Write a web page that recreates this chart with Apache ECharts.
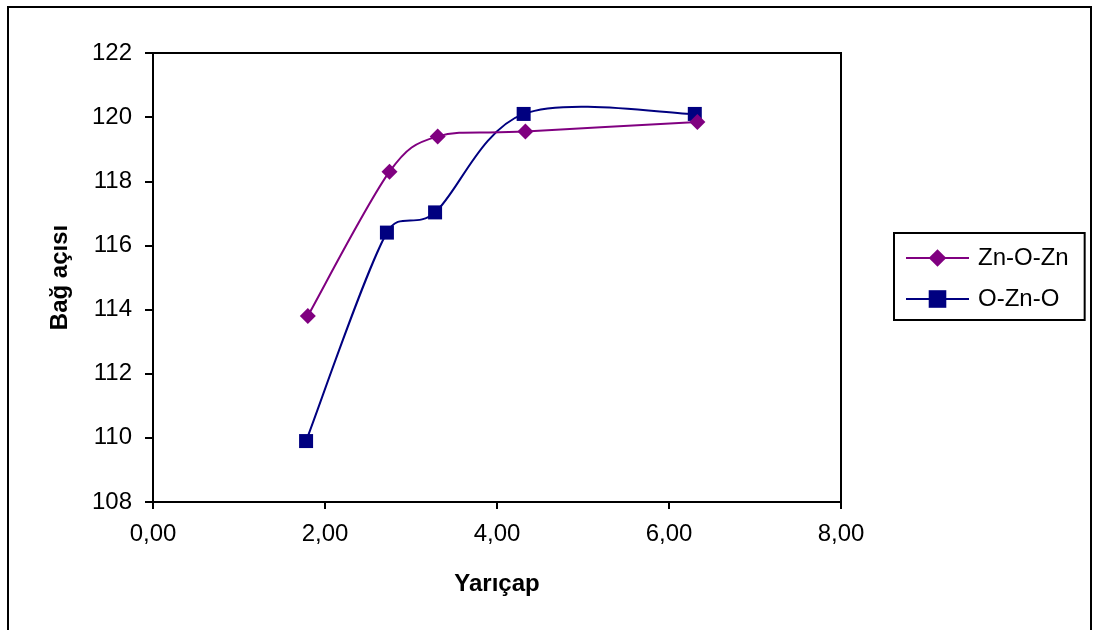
<!DOCTYPE html>
<html>
<head>
<meta charset="utf-8">
<script src="https://cdn.jsdelivr.net/npm/echarts@6/dist/echarts.min.js"></script>
<style>
  html, body { margin: 0; padding: 0; background: #fff; }
  #chart { width: 1093px; height: 630px; }
</style>
</head>
<body>
<div id="chart"></div>
<script>
// Bond angle (degrees) against radius for the two angle types
const seriesNames = ['Zn-O-Zn', 'O-Zn-O'];
const seriesColors = ['#800080', '#000080'];
const znOZnRadius = [1.80, 2.75, 3.31, 4.33, 6.33];
const znOZnAngle  = [113.8, 118.3, 119.4, 119.55, 119.85];
const oZnORadius  = [1.78, 2.72, 3.28, 4.31, 6.30];
const oZnOAngle   = [109.9, 116.4, 117.03, 120.1, 120.1];
const xTicks = [0, 2, 4, 6, 8];
const yTicks = [108, 110, 112, 114, 116, 118, 120, 122];

const FONT = '"Liberation Sans", Arial, sans-serif';
const pairs = (xs, ys) => xs.map((x, i) => [x, ys[i]]);

// Control-point offset: 1/6 of the neighbour chord, capped at half the segment length
function handle(from, to, segLen) {
  let dx = (to[0] - from[0]) / 6, dy = (to[1] - from[1]) / 6;
  const len = Math.hypot(dx, dy), cap = segLen / 2;
  if (len > cap && len > 0) { dx *= cap / len; dy *= cap / len; }
  return [dx, dy];
}

// Smoothed connecting curve drawn as one cubic Bezier per segment
function smoothCurve(points, color) {
  return {
    type: 'custom',
    silent: true,
    z: 1,
    data: points,
    renderItem: function (params, api) {
      const i = params.dataIndex;
      if (i >= points.length - 1) return null;
      const px = points.map(p => api.coord(p));
      const p0 = px[Math.max(i - 1, 0)];
      const p1 = px[i];
      const p2 = px[i + 1];
      const p3 = px[Math.min(i + 2, px.length - 1)];
      const seg = Math.hypot(p2[0] - p1[0], p2[1] - p1[1]);
      const h1 = handle(p0, p2, seg);
      const h2 = handle(p1, p3, seg);
      return {
        type: 'bezierCurve',
        shape: {
          x1: p1[0], y1: p1[1],
          cpx1: p1[0] + h1[0], cpy1: p1[1] + h1[1],
          cpx2: p2[0] - h2[0], cpy2: p2[1] - h2[1],
          x2: p2[0], y2: p2[1]
        },
        style: { stroke: color, lineWidth: 2, fill: null }
      };
    }
  };
}

const chart = echarts.init(document.getElementById('chart'), null, { renderer: 'canvas' });

chart.setOption({
  backgroundColor: '#ffffff',
  animation: false,
  textStyle: { fontFamily: FONT, color: '#000' },
  graphic: [{
    type: 'rect',
    shape: { x: 8, y: 7, width: 1083, height: 640 },
    style: { fill: 'none', stroke: '#000', lineWidth: 2 },
    silent: true,
    z: -1
  }],
  grid: {
    left: 153, top: 53, right: 252, bottom: 128,
    show: true, borderColor: '#000', borderWidth: 2, backgroundColor: '#fff'
  },
  legend: {
    orient: 'vertical',
    left: 894, top: 233,
    padding: [13, 16, 9, 11],
    itemGap: 17,
    itemWidth: 63,
    itemHeight: 22,
    borderColor: '#000', borderWidth: 2,
    backgroundColor: '#fff',
    lineStyle: { width: 2, opacity: 1 },
    textStyle: { fontFamily: FONT, fontSize: 24, color: '#000', padding: [0, 0, 0, 4] },
    data: seriesNames
  },
  xAxis: {
    type: 'value',
    min: xTicks[0], max: xTicks[xTicks.length - 1], interval: 2,
    name: 'Yarıçap',
    nameLocation: 'middle',
    nameGap: 70,
    nameTextStyle: { fontFamily: FONT, fontSize: 24, fontWeight: 'bold', color: '#000' },
    axisLine: { lineStyle: { color: '#000', width: 2 } },
    axisTick: { show: true, length: 7, lineStyle: { color: '#000', width: 2 } },
    axisLabel: {
      margin: 20, fontSize: 24, color: '#000', fontFamily: FONT,
      formatter: v => v.toFixed(2).replace('.', ',')
    },
    splitLine: { show: false }
  },
  yAxis: {
    type: 'value',
    min: yTicks[0], max: yTicks[yTicks.length - 1], interval: 2,
    name: 'Bağ açısı',
    nameLocation: 'middle',
    nameRotate: 90,
    nameGap: 81,
    nameTextStyle: { fontFamily: FONT, fontSize: 24, fontWeight: 'bold', color: '#000' },
    axisLine: { show: true, lineStyle: { color: '#000', width: 2 } },
    axisTick: { show: true, length: 8, lineStyle: { color: '#000', width: 2 } },
    axisLabel: { margin: 21, fontSize: 24, color: '#000', fontFamily: FONT },
    splitLine: { show: false }
  },
  series: [
    smoothCurve(pairs(oZnORadius, oZnOAngle), seriesColors[1]),
    smoothCurve(pairs(znOZnRadius, znOZnAngle), seriesColors[0]),
    {
      name: seriesNames[0],
      type: 'line',
      data: pairs(znOZnRadius, znOZnAngle),
      symbol: 'diamond',
      symbolSize: 16,
      itemStyle: { color: seriesColors[0] },
      lineStyle: { color: seriesColors[0], width: 2, opacity: 0 },
      z: 4
    },
    {
      name: seriesNames[1],
      type: 'line',
      data: pairs(oZnORadius, oZnOAngle),
      symbol: 'rect',
      symbolSize: 14,
      itemStyle: { color: seriesColors[1] },
      lineStyle: { color: seriesColors[1], width: 2, opacity: 0 },
      z: 3
    }
  ]
});
</script>
</body>
</html>
